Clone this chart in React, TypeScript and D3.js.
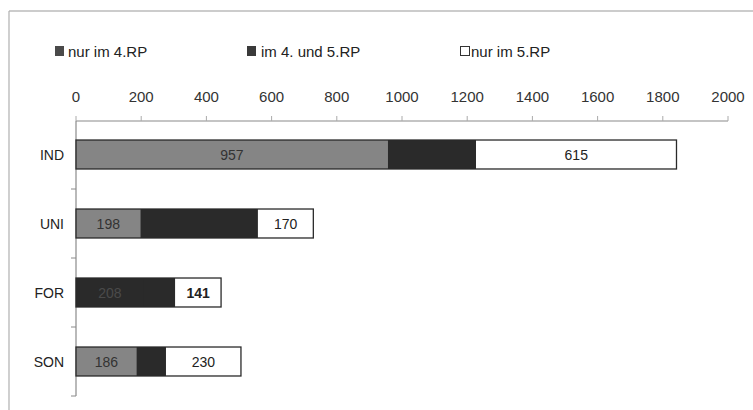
import React from "react";
import * as d3 from "d3";

const categories = ["IND", "UNI", "FOR", "SON"];
const seriesNames = ["nur im 4.RP", "im 4. und 5.RP", "nur im 5.RP"];
const only4 = [957, 198, 208, 186];
const both = [270, 360, 96, 90];
const only5 = [615, 170, 141, 230];
const labels4 = ["957", "198", "208", "186"];
const labels5 = ["615", "170", "141", "230"];
const xTicks = [0, 200, 400, 600, 800, 1000, 1200, 1400, 1600, 1800, 2000];

const W = 753;
const H = 410;
const FONT = "'Liberation Sans', Arial, sans-serif";
const fills = ["#858585", "#2a2a2a", "#ffffff"];

export default function App() {
  const x = d3.scaleLinear().domain([0, 2000]).range([76, 728]);
  const y = d3
    .scaleBand<string>()
    .domain(categories)
    .range([120, 396])
    .paddingInner(0.58)
    .paddingOuter(0.29);

  const rows = categories.map((c, i) => ({
    cat: c,
    s0: only4[i],
    s1: both[i],
    s2: only5[i],
  }));
  const stack = d3.stack<any>().keys(["s0", "s1", "s2"]);
  const layers = stack(rows);
  const step = y.step();

  return (
    <svg
      width={W}
      height={H}
      style={{ position: "absolute", left: 0, top: 0, background: "#fff" }}
      fontFamily={FONT}
    >
      {/* frame */}
      <line x1={9} x2={753} y1={11} y2={11} stroke="#9a9a9a" strokeWidth={1.2} />
      <line x1={9} x2={9} y1={11} y2={410} stroke="#b0b0b0" strokeWidth={1.2} />

      {/* legend */}
      <g fontSize={15} fill="#222">
        <rect x={55} y={46} width={9} height={10} fill="#4a4a4a" />
        <text x={68} y={51} dominantBaseline="central">{seriesNames[0]}</text>
        <rect x={247} y={46} width={9} height={10} fill="#3a3a3a" />
        <text x={261} y={51} dominantBaseline="central">{seriesNames[1]}</text>
        <rect x={460.5} y={46.5} width={9} height={9} fill="#fff" stroke="#333" strokeWidth={1} />
        <text x={471} y={51} dominantBaseline="central">{seriesNames[2]}</text>
      </g>

      {/* x axis */}
      <line x1={x(0)} x2={x(2000)} y1={121} y2={121} stroke="#8a8a8a" strokeWidth={1.2} />
      {xTicks.map((t) => (
        <g key={t}>
          <line x1={x(t)} x2={x(t)} y1={116} y2={121} stroke="#aaa" strokeWidth={1} />
          <text
            x={x(t)}
            y={96}
            textAnchor="middle"
            dominantBaseline="central"
            fontSize={15}
            fill="#333"
          >
            {t}
          </text>
        </g>
      ))}

      {/* y axis */}
      <line x1={76} x2={76} y1={121} y2={396} stroke="#8a8a8a" strokeWidth={1.2} />
      {categories.map((c) => {
        const yy = (y(c) as number) - y.paddingOuter() * step + step;
        return (
          <line key={c} x1={71} x2={76} y1={yy} y2={yy} stroke="#8a8a8a" strokeWidth={1} />
        );
      })}
      {categories.map((c) => (
        <text
          key={c}
          x={64}
          y={(y(c) as number) + y.bandwidth() / 2}
          textAnchor="end"
          dominantBaseline="central"
          fontSize={14}
          fill="#222"
        >
          {c}
        </text>
      ))}

      {/* bars */}
      {layers.map((layer, li) =>
        layer.map((d, i) => {
          const cat = categories[i];
          const x0 = x(d[0]);
          const x1 = x(d[1]);
          const dark = li === 0 && cat === "FOR";
          return (
            <rect
              key={li + cat}
              x={x0}
              y={y(cat)}
              width={x1 - x0 + (li < 2 ? 0.6 : 0)}
              height={y.bandwidth()}
              fill={dark ? fills[1] : fills[li]}
            />
          );
        })
      )}
      {/* bar outlines */}
      {categories.map((c, i) => {
        const total = only4[i] + both[i] + only5[i];
        return (
          <rect
            key={"o" + c}
            x={x(0)}
            y={y(c)}
            width={x(total) - x(0)}
            height={y.bandwidth()}
            fill="none"
            stroke="#2a2a2a"
            strokeWidth={1.3}
          />
        );
      })}

      {/* value labels */}
      {categories.map((c, i) => {
        const cy = (y(c) as number) + y.bandwidth() / 2;
        const a = x(only4[i] / 2);
        const s5 = only4[i] + both[i];
        const b = x(s5 + only5[i] / 2);
        return (
          <g key={"l" + c} fontSize={14}>
            <text
              x={a}
              y={cy}
              textAnchor="middle"
              dominantBaseline="central"
              fill={c === "FOR" ? "#4a4a4a" : "#333"}
            >
              {labels4[i]}
            </text>
            <text
              x={b}
              y={cy}
              textAnchor="middle"
              dominantBaseline="central"
              fill="#222"
              fontWeight={c === "FOR" ? "bold" : "normal"}
            >
              {labels5[i]}
            </text>
          </g>
        );
      })}
    </svg>
  );
}
